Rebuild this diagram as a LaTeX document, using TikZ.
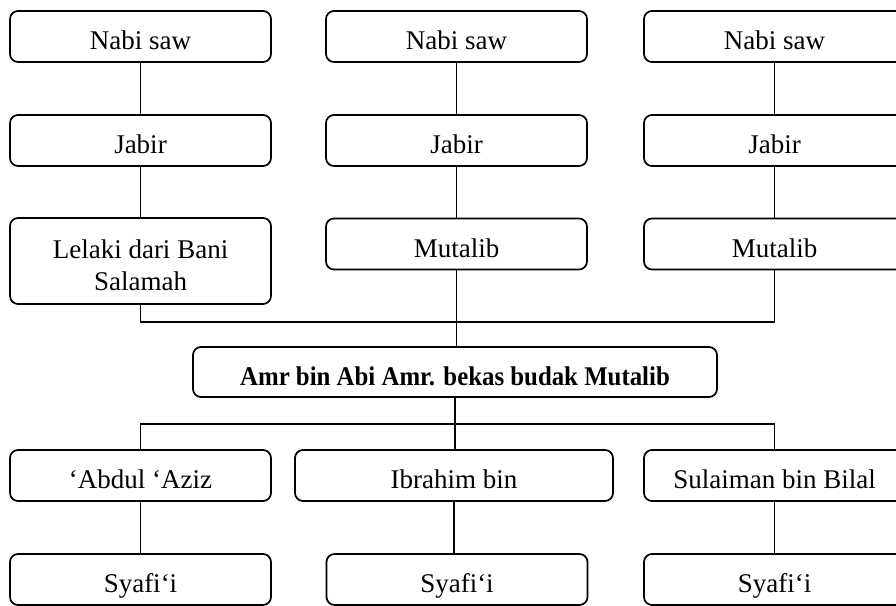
\documentclass[tikz,border=0pt]{standalone}
\usepackage{fontspec}
\setmainfont{Liberation Serif}
\usepackage{graphicx}
\usepackage{tikz}
\usetikzlibrary{positioning}

\tikzset{
  isnad/.style={draw, line width=1.3pt, rounded corners=6pt, inner sep=0.75pt,
    minimum width=195.75pt, minimum height=38.25pt, align=center,
    text height=20pt, text depth=0pt, font=\fontsize{20.25}{24}\selectfont},
  link/.style={line width=1.4pt}
}

\begin{document}
\begin{tikzpicture}[x=0.75pt,y=0.75pt,yscale=-1,xscale=1]
  \useasboundingbox (0,0) rectangle (896,606);

  %Rounded Rect -- first chain
  \node [isnad] (nabiA) at (140.5,36.5) {Nabi saw};
  \node [isnad] (jabirA) at (140.5,140.5) {Jabir};
  \node [isnad, minimum height=64.5pt, text height=44pt] (lelaki) at (140.5,261) {Lelaki dari Bani\\Salamah};
  %Rounded Rect -- second chain
  \node [isnad] (nabiB) at (456.5,36.5) {Nabi saw};
  \node [isnad] (jabirB) at (456.5,140.5) {Jabir};
  \node [isnad] (mutalibB) at (456.5,244) {Mutalib};
  %Rounded Rect -- third chain
  \node [isnad] (nabiC) at (774.5,36.5) {Nabi saw};
  \node [isnad] (jabirC) at (774.5,140.5) {Jabir};
  \node [isnad] (mutalibC) at (774.5,244) {Mutalib};

  %Rounded Rect -- common link
  \node [isnad, minimum width=393pt, minimum height=37.5pt] (amr) at (455,372)
    {\scalebox{0.92}[1]{\bfseries Amr bin Abi Amr. bekas budak Mutalib}};

  %Rounded Rect -- students
  \node [isnad] (abdul) at (140.5,475.5) {‘Abdul ‘Aziz};
  \node [isnad, minimum width=238.5pt] (ibrahim) at (454,475.5) {Ibrahim bin};
  \node [isnad] (sulaiman) at (774.5,475.5) {Sulaiman bin Bilal};
  \node [isnad] (syafiA) at (140.5,579.5) {Syafi‘i};
  \node [isnad] (syafiB) at (457,579.5) {Syafi‘i};
  \node [isnad] (syafiC) at (774.5,579.5) {Syafi‘i};

  % bars
  \coordinate (topbar) at (455,322);
  \coordinate (lowbar) at (455,424);

  % Straight Lines
  \draw [link] (nabiA) -- (jabirA);
  \draw [link] (jabirA) -- (lelaki);
  \draw [link] (nabiB) -- (jabirB);
  \draw [link] (jabirB) -- (mutalibB);
  \draw [link] (nabiC) -- (jabirC);
  \draw [link] (jabirC) -- (mutalibC);
  \draw [link] (lelaki.south) -- (lelaki.south |- topbar) -- (mutalibC.south |- topbar) -- (mutalibC.south);
  \draw [link] (mutalibB.south) -- (mutalibB.south |- amr.north);
  \draw [link] (amr.south) -- (amr.south |- ibrahim.north);
  \draw [link] (abdul.north) -- (abdul.north |- lowbar) -- (sulaiman.north |- lowbar) -- (sulaiman.north);
  \draw [link] (abdul) -- (syafiA);
  \draw [link] (ibrahim.south) -- (ibrahim.south |- syafiB.north);
  \draw [link] (sulaiman) -- (syafiC);

\end{tikzpicture}
\end{document}
